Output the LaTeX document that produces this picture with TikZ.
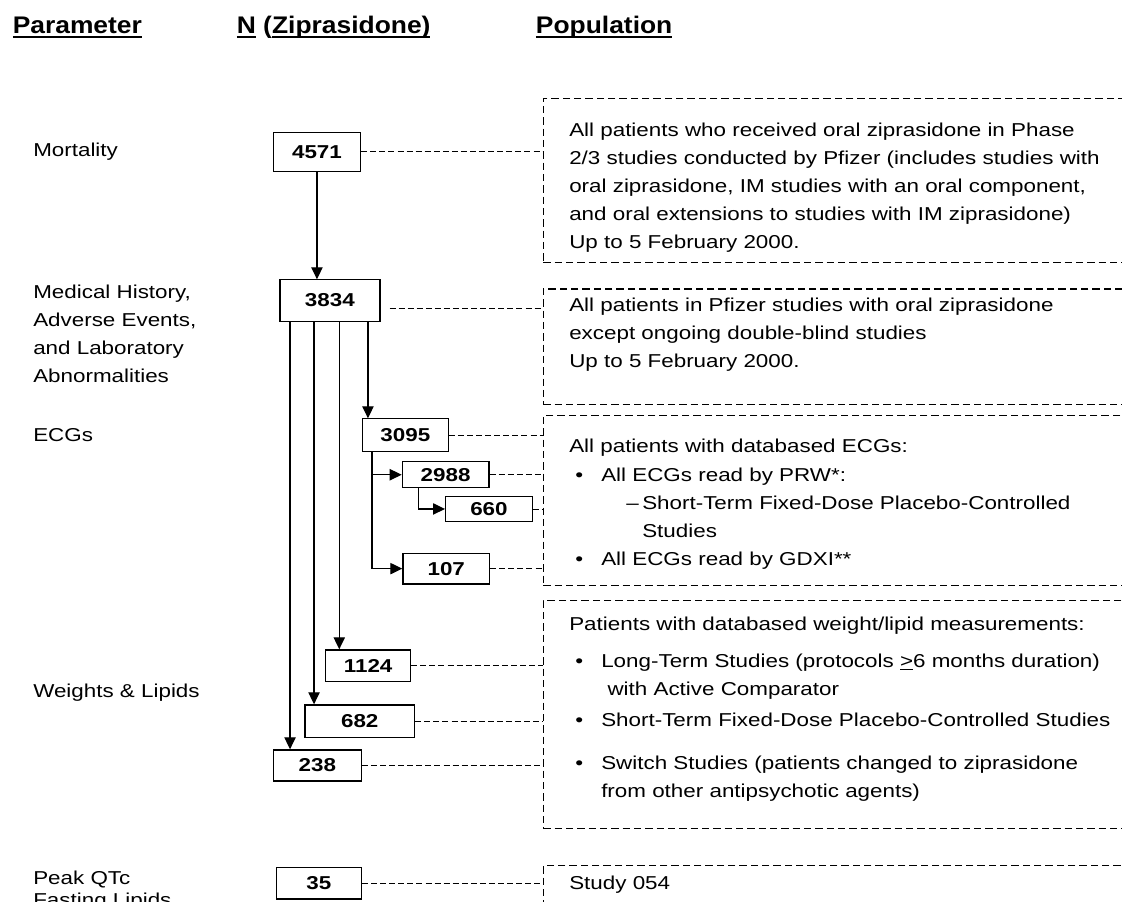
\documentclass[tikz,border=0pt]{standalone}
\usepackage{fontspec}
\setmainfont{Liberation Sans}[FakeStretch=1.2]
\newfontfamily\hdfont{Liberation Sans}[FakeStretch=1.1]
\usetikzlibrary{positioning,arrows.meta}
\newcommand\hul[1]{\setbox0\hbox{#1}\rlap{\rule[-3.2pt]{\wd0}{1.2pt}}\box0\relax}
\newcommand\bul{\makebox[19.5pt][l]{\textbullet}}
\newcommand\dsh{\makebox[12pt][l]{\textendash}}

\begin{document}
\begin{tikzpicture}[x=.75pt, y=-.75pt, font=\fontsize{14}{21}\selectfont,
  hd/.style={anchor=base west, inner sep=0pt, font=\hdfont\fontsize{18}{22}\bfseries},
  lab/.style={anchor=base west, inner sep=0pt, text width=220pt, align=left},
  nb/.style={draw, line width=.9pt, inner sep=0pt, anchor=north west, font=\fontsize{14}{21}\bfseries},
  pb/.style={draw, line width=1pt, dash pattern=on 5.5pt off 3pt, inner sep=0pt, anchor=north west, minimum width=450pt},
  ptext/.style={anchor=base west, inner sep=0pt, text width=420pt, align=left},
  arr/.style={line width=.9pt, -{Triangle[length=9pt,width=8.5pt]}},
  dl/.style={line width=.6pt, dash pattern=on 4.5pt off 2.3pt}]
	\useasboundingbox (0,0) rectangle (1122,902);

	% column heads
	\node[hd] (hpar) at (12.5,33.3) {\hul{Parameter}};
	\node[hd] (hn) at (236.6,33.3) {\hul{N} (\hul{Ziprasidone)}};
	\node[hd] (hpop) at (535.7,33.3) {\hul{Population}};

	% parameters
	\node[lab] (mort) at (33,157) {Mortality};
	\node[lab] (medh) at (33,299) {Medical History,\\Adverse Events,\\and Laboratory\\Abnormalities};
	\node[lab] (ecgs) at (33,442) {ECGs};
	\node[lab] (wlip) at (33,697) {Weights \& Lipids};
	\node[lab, font=\fontsize{14}{16.5}\selectfont] (pqtc) at (33,884) {Peak QTc\\Fasting Lipids};

	% counts
	\node[nb, minimum width=65.5pt, minimum height=29.3pt] (n4571) at (272.7,131.7) {4571};
	\node[nb, minimum width=75pt, minimum height=31pt] (n3834) at (279.3,279.3) {3834};
	\node[nb, minimum width=64.5pt, minimum height=24.3pt] (n3095) at (361.7,418.3) {3095};
	\node[nb, minimum width=65pt, minimum height=19.7pt] (n2988) at (401.7,461) {2988};
	\node[nb, minimum width=65pt, minimum height=19pt] (n660) at (445,495.7) {660};
	\node[nb, minimum width=65pt, minimum height=23pt] (n107) at (402.3,552.7) {107};
	\node[nb, minimum width=63.8pt, minimum height=23.8pt] (n1124) at (325,649.3) {1124};
	\node[nb, minimum width=82.3pt, minimum height=24.3pt] (n682) at (304.3,704.3) {682};
	\node[nb, minimum width=66pt, minimum height=23.3pt] (n238) at (272.7,749.3) {238};
	\node[nb, minimum width=64pt, minimum height=23.7pt] (n35) at (275.5,866.7) {35};

	% populations
	\node[pb, minimum height=123pt] (pop1) at (542.7,98) {};
	\node[pb, minimum height=86.8pt] (pop2) at (542.7,288.3) {};
	\node[pb, minimum height=127.5pt] (pop3) at (542.7,415) {};
	\node[pb, minimum height=171pt] (pop4) at (542.7,600) {};
	\node[pb, minimum height=60pt] (pop5) at (542.7,865) {};

	\node[ptext] (t1) at (569,137) {All patients who received oral ziprasidone in Phase\\2/3 studies conducted by Pfizer (includes studies with\\oral ziprasidone, IM studies with an oral component,\\and oral extensions to studies with IM ziprasidone)\\Up to 5 February 2000.};
	\node[ptext] (t2) at (569,312) {All patients in Pfizer studies with oral ziprasidone\\except ongoing double-blind studies\\Up to 5 February 2000.};
	\node[ptext] (t3a) at (569,453) {All patients with databased ECGs:};
	\node[ptext] (t3b) at (575,481) {\bul All ECGs read by PRW*:};
	\node[ptext] (t3c) at (626,509) {\dsh Short-Term Fixed-Dose Placebo-Controlled\\\hspace*{12pt}Studies};
	\node[ptext] (t3d) at (575,565) {\bul All ECGs read by GDXI**};
	\node[ptext] (t4a) at (569,630) {Patients with databased weight/lipid measurements:};
	\node[ptext] (t4b) at (575,667) {\bul Long-Term Studies (protocols \underline{>}6 months duration)\\\hspace*{24.2pt}with Active Comparator};
	\node[ptext] (t4c) at (575,726) {\bul Short-Term Fixed-Dose Placebo-Controlled Studies};
	\node[ptext] (t4d) at (575,769) {\bul Switch Studies (patients changed to ziprasidone\\\hspace*{19.5pt}from other antipsychotic agents)};
	\node[ptext] (t5) at (569,889) {Study 054};

	% arrows
	\draw[arr] (n4571.south) -- (n4571.south |- n3834.north);
	\draw[arr] ([xshift=4.7pt]n3095.north west |- n3834.south) -- ([xshift=4.7pt]n3095.north west);
	\draw[arr] ([xshift=10.7pt]n1124.north west |- n3834.south) -- ([xshift=10.7pt]n1124.north west);
	\draw[arr] ([xshift=7.3pt]n682.north west |- n3834.south) -- ([xshift=7.3pt]n682.north west);
	\draw[arr] ([xshift=13pt]n238.north west |- n3834.south) -- ([xshift=13pt]n238.north west);
	\draw[arr] ([xshift=7.7pt]n3095.south west) |- (n107.west);
	\draw[arr] ([xshift=7.7pt]n3095.south west |- n2988.west) -- (n2988.west);
	\draw[arr] ([xshift=12.5pt]n2988.south west) |- (n660.west);

	% links to populations
	\coordinate (l3834) at ([shift={(9,8.3)}]n3834.east);
	\draw[dl] (n4571.east) -- (n4571.east -| pop1.west);
	\draw[dl] (l3834) -- (l3834 -| pop2.west);
	\draw[dl] (n3095.east) -- (n3095.east -| pop3.west);
	\draw[dl] (n2988.east) -- (n2988.east -| pop3.west);
	\draw[dl] (n660.east) -- (n660.east -| pop3.west);
	\draw[dl] (n107.east) -- (n107.east -| pop3.west);
	\draw[dl] (n1124.east) -- (n1124.east -| pop4.west);
	\draw[dl] (n682.east) -- (n682.east -| pop4.west);
	\draw[dl] (n238.east) -- (n238.east -| pop4.west);
	\draw[dl] (n35.east) -- (n35.east -| pop5.west);
\end{tikzpicture}
\end{document}
